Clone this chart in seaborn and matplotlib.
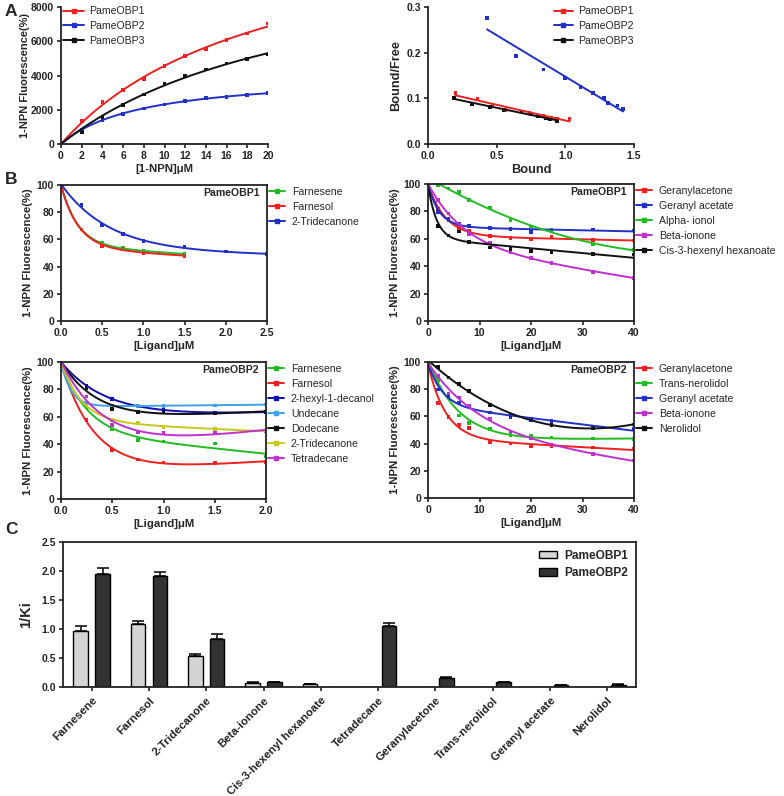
import numpy as np
import pandas as pd
import matplotlib
matplotlib.use("Agg")
import matplotlib.pyplot as plt
import seaborn as sns
from matplotlib.lines import Line2D
from matplotlib.patches import Patch

sns.set_theme(style="ticks")
plt.rcParams['font.family'] = ['Liberation Sans', 'DejaVu Sans']

# ---------------- DATA ----------------
# Panel A (saturation binding)
A_x = [2, 4, 6, 8, 10, 12, 14, 16, 18, 20]
A_obp1 = [1360, 2470, 3150, 3790, 4540, 5150, 5550, 6060, 6450, 7030]
A_obp2 = [850, 1400, 1770, 2080, 2310, 2520, 2680, 2740, 2870, 2970]
A_obp3 = [720, 1590, 2290, 2890, 3530, 3960, 4350, 4700, 4950, 5220]

# Panel A right (Scatchard)
S_obp1_x = [0.20, 0.36, 0.47, 0.56, 0.74, 0.84, 0.90, 0.94, 1.03]
S_obp1_y = [0.111, 0.098, 0.085, 0.075, 0.068, 0.062, 0.058, 0.055, 0.055]
S_obp2_x = [0.43, 0.64, 0.84, 1.00, 1.11, 1.20, 1.28, 1.31, 1.38, 1.42]
S_obp2_y = [0.276, 0.193, 0.163, 0.144, 0.125, 0.112, 0.100, 0.090, 0.084, 0.077]
S_obp3_x = [0.19, 0.32, 0.45, 0.55, 0.68, 0.75, 0.80, 0.86, 0.89, 0.94]
S_obp3_y = [0.101, 0.088, 0.081, 0.074, 0.071, 0.066, 0.061, 0.057, 0.054, 0.050]

# Panel B top-left (PameOBP1, 0-2.5 uM)
BTL_x_short = [0, 0.25, 0.5, 0.75, 1.0, 1.5]
BTL_x_long = [0, 0.25, 0.5, 0.75, 1.0, 1.5, 2.0, 2.5]
BTL_farnesene = [100, 67.2, 57.2, 53.5, 51.3, 49.4]
BTL_farnesol = [100, 67.2, 55.3, 53.0, 50.1, 48.0]
BTL_tridecanone = [100, 85.3, 70.4, 64.1, 58.9, 54.5, 51.1, 49.1]

# Panel B top-right (PameOBP1, 0-40 uM)
B40_x = [0, 2, 4, 6, 8, 12, 16, 20, 24, 32, 40]
BTR_geranylacetone = [100, 81.9, 73.8, 68.1, 65.5, 61.8, 60.5, 60.0, 61.5, 59.0, 58.8]
BTR_geranylacetate = [100, 79.7, 74.3, 71.0, 69.4, 68.1, 67.2, 65.0, 66.0, 66.7, 66.0]
BTR_alphaionol_x = [2, 4, 6, 8, 12, 16, 20, 24, 32, 40]
BTR_alphaionol = [98.8, 96.6, 94.0, 88.2, 82.8, 73.5, 69.0, 66.2, 55.9, 52.0]
BTR_betaionone = [100, 88.2, 78.4, 70.0, 63.7, 57.0, 50.0, 45.8, 42.2, 36.0, 31.6]
BTR_cis3 = [100, 69.4, 62.5, 65.4, 57.6, 53.7, 52.5, 51.2, 50.0, 49.0, 48.5]

# Panel B bottom-left (PameOBP2, 0-2 uM)
BBL_x = [0, 0.25, 0.5, 0.75, 1.0, 1.5, 2.0]
BBL_farnesene = [100, 67.0, 50.7, 43.2, 42.0, 40.5, 31.0]
BBL_farnesol = [100, 57.6, 35.6, 28.8, 26.6, 26.3, 27.1]
BBL_hexyldecanol = [100, 82.6, 73.0, 67.9, 65.0, 63.0, 63.5]
BBL_undecane = [100, 70.0, 68.0, 68.0, 68.0, 68.3, 69.0]
BBL_dodecane = [100, 80.9, 65.7, 63.7, 64.0, 62.4, 63.7]
BBL_tridecanone = [100, 68.0, 57.6, 55.6, 52.7, 51.0, 49.5]
BBL_tetradecane = [100, 74.8, 53.9, 49.0, 48.3, 48.3, 49.8]

# Panel B bottom-right (PameOBP2, 0-40 uM)
BBR_geranylacetone = [100, 70.0, 59.5, 53.8, 51.4, 41.3, 40.0, 37.8, 37.8, 37.1, 36.4]
BBR_transnerolidol = [100, 86.6, 75.6, 60.7, 55.0, 50.6, 46.4, 45.4, 44.5, 43.7, 43.2]
BBR_geranylacetate = [100, 79.8, 74.6, 70.2, 67.3, 62.9, 59.5, 57.5, 56.8, 52.6, 50.6]
BBR_betaionone = [100, 89.5, 76.8, 73.9, 67.6, 58.2, 48.9, 44.0, 39.0, 32.4, 27.5]
BBR_nerolidol = [100, 96.3, 88.5, 83.7, 78.5, 68.5, 61.0, 58.0, 53.6, 51.6, 54.0]

# Panel C (1/Ki)
C_ligands = ['Farnesene', 'Farnesol', '2-Tridecanone', 'Beta-ionone',
             'Cis-3-hexenyl hexanoate', 'Tetradecane', 'Geranylacetone',
             'Trans-nerolidol', 'Geranyl acetate', 'Nerolidol']
C_obp1 = [0.96, 1.09, 0.54, 0.075, 0.046, 0, 0, 0, 0, 0]
C_obp1_err = [0.10, 0.045, 0.035, 0.004, 0.003, 0, 0, 0, 0, 0]
C_obp2 = [1.94, 1.91, 0.82, 0.08, 0, 1.05, 0.155, 0.086, 0.03, 0.04]
C_obp2_err = [0.12, 0.08, 0.10, 0.006, 0, 0.06, 0.018, 0.006, 0.004, 0.004]

# ---------------- COLOURS ----------------
RED = "#ee2020"
BLUE = "#2030c8"
BLACK = "#111111"
GREEN = "#22bb22"
MAGENTA = "#c030d0"
LBLUE = "#40a0e8"
YELLOW = "#c8c820"
DBLUE = "#1010b0"

# ---------------- FITTING HELPERS ----------------
def fit_saturation(x, y, xs):
    x = np.asarray(x, float); y = np.asarray(y, float)
    best = None
    for K in np.logspace(-1, 3, 3000):
        f = x / (K + x)
        B = np.sum(y * f) / np.sum(f * f)
        sse = np.sum((y - B * f) ** 2)
        if best is None or sse < best[0]:
            best = (sse, K, B)
    _, K, B = best
    return B * xs / (K + xs)


def fit_decay(x, y, xs):
    x = np.asarray(x, float); y = np.asarray(y, float)
    xmax = x.max()
    best = None
    for k in np.logspace(np.log10(0.05), np.log10(200), 1500) / xmax:
        M = np.column_stack([np.ones_like(x), np.exp(-k * x), x])
        coef, *_ = np.linalg.lstsq(M, y, rcond=None)
        sse = np.sum((M @ coef - y) ** 2)
        if best is None or sse < best[0]:
            best = (sse, k, coef)
    _, k, coef = best
    return coef[0] + coef[1] * np.exp(-k * xs) + coef[2] * xs


def draw_series(ax, series, kind):
    pts, crv = [], []
    pal = {}
    for name, x, y, color in series:
        pal[name] = color
        x = np.asarray(x, float)
        xs = np.linspace(x.min(), x.max(), 300)
        if kind == "sat":
            xs = np.linspace(0, x.max(), 300)
            ys = fit_saturation(x, y, xs)
        elif kind == "lin":
            p = np.polyfit(x, y, 1)
            ys = np.polyval(p, xs)
        else:
            ys = fit_decay(x, y, xs)
        crv.append(pd.DataFrame({"x": xs, "y": ys, "s": name}))
        pts.append(pd.DataFrame({"x": x, "y": y, "s": name}))
    crv = pd.concat(crv); pts = pd.concat(pts)
    sns.lineplot(data=crv, x="x", y="y", hue="s", palette=pal, estimator=None,
                 sort=False, lw=1.4, legend=False, ax=ax)
    sns.scatterplot(data=pts, x="x", y="y", hue="s", palette=pal, s=7,
                    marker="s", edgecolor="none", legend=False, ax=ax)
    handles = [Line2D([0], [0], color=c, lw=1.4, marker="s", ms=2.3)
               for _, _, _, c in series]
    labels = [n for n, _, _, _ in series]
    return handles, labels


def style_ax(ax, box=False):
    for side in ["left", "bottom"]:
        ax.spines[side].set_linewidth(1.3)
        ax.spines[side].set_color("#222222")
    for side in ["top", "right"]:
        ax.spines[side].set_visible(box)
        ax.spines[side].set_linewidth(1.3)
        ax.spines[side].set_color("#222222")
    ax.tick_params(direction="out", length=3, width=1.2, labelsize=7.5, pad=2,
                   colors="#222222")
    for lab in ax.get_xticklabels() + ax.get_yticklabels():
        lab.set_fontweight("bold")


W, H = 784, 796
fig = plt.figure(figsize=(W / 100, H / 100), dpi=100)


def add_ax(x0, x1, y0, y1):
    return fig.add_axes([x0 / W, 1 - y1 / H, (x1 - x0) / W, (y1 - y0) / H])

LFS = 8.2   # axis label size
LEGFS = 7.6

# ---------- Panel A left ----------
ax = add_ax(61, 268, 7, 144)
h, l = draw_series(ax, [("PameOBP1", A_x, A_obp1, RED),
                        ("PameOBP2", A_x, A_obp2, BLUE),
                        ("PameOBP3", A_x, A_obp3, BLACK)], "sat")
ax.set_xlim(0, 20); ax.set_ylim(0, 8000)
ax.set_xticks(range(0, 21, 2)); ax.set_yticks(range(0, 8001, 2000))
ax.set_xlabel("[1-NPN]μM", fontsize=LFS, fontweight="bold", labelpad=2)
ax.set_ylabel("1-NPN Fluorescence(%)", fontsize=8.0, fontweight="bold", labelpad=1)
style_ax(ax)
ax.legend(h, l, loc="upper left", bbox_to_anchor=(0.0, 1.02), frameon=False,
          fontsize=LEGFS, handlelength=2.0, handletextpad=0.5, labelspacing=0.45,
          borderaxespad=0, borderpad=0.2)

# ---------- Panel A right ----------
ax = add_ax(428, 634, 7, 144)
h, l = draw_series(ax, [("PameOBP1", S_obp1_x, S_obp1_y, RED),
                        ("PameOBP2", S_obp2_x, S_obp2_y, BLUE),
                        ("PameOBP3", S_obp3_x, S_obp3_y, BLACK)], "lin")
ax.set_xlim(0, 1.5); ax.set_ylim(0, 0.3)
ax.set_xticks([0, 0.5, 1.0, 1.5]); ax.set_yticks([0, 0.1, 0.2, 0.3])
ax.xaxis.set_major_formatter(matplotlib.ticker.FormatStrFormatter("%.1f"))
ax.yaxis.set_major_formatter(matplotlib.ticker.FormatStrFormatter("%.1f"))
ax.set_xlabel("Bound", fontsize=LFS + 1, fontweight="bold", labelpad=2)
ax.set_ylabel("Bound/Free", fontsize=LFS + 1, fontweight="bold", labelpad=3)
style_ax(ax)
ax.legend(h, l, loc="upper left", bbox_to_anchor=(0.6, 1.02), frameon=False,
          fontsize=LEGFS, handlelength=1.8, handletextpad=0.5, labelspacing=0.45,
          borderaxespad=0, borderpad=0.2)


def b_panel(x0, x1, y0, y1, series, xlim, xticks, fmt, title):
    ax = add_ax(x0, x1, y0, y1)
    h, l = draw_series(ax, series, "decay")
    ax.set_xlim(*xlim); ax.set_ylim(0, 100)
    ax.set_xticks(xticks); ax.set_yticks(range(0, 101, 20))
    ax.xaxis.set_major_formatter(matplotlib.ticker.FormatStrFormatter(fmt))
    ax.set_xlabel("[Ligand]μM", fontsize=LFS, fontweight="bold", labelpad=2)
    ax.set_ylabel("1-NPN Fluorescence(%)", fontsize=LFS, fontweight="bold", labelpad=3)
    style_ax(ax, box=True)
    ax.text(0.965, 0.94, title, transform=ax.transAxes, ha="right", va="center",
            fontsize=LEGFS, fontweight="bold")
    ax.legend(h, l, loc="upper left", bbox_to_anchor=(1.0, 1.0), frameon=False,
              fontsize=LEGFS, handlelength=1.6, handletextpad=0.6, labelspacing=0.48,
              borderaxespad=0, borderpad=0.15)
    return ax

b_panel(61, 267, 185, 321,
        [("Farnesene", BTL_x_short, BTL_farnesene, GREEN),
         ("Farnesol", BTL_x_short, BTL_farnesol, RED),
         ("2-Tridecanone", BTL_x_long, BTL_tridecanone, BLUE)],
        (0, 2.5), [0, 0.5, 1.0, 1.5, 2.0, 2.5], "%.1f", "PameOBP1")

b_panel(428, 634, 184, 321,
        [("Geranylacetone", B40_x, BTR_geranylacetone, RED),
         ("Geranyl acetate", B40_x, BTR_geranylacetate, BLUE),
         ("Alpha- ionol", BTR_alphaionol_x, BTR_alphaionol, GREEN),
         ("Beta-ionone", B40_x, BTR_betaionone, MAGENTA),
         ("Cis-3-hexenyl hexanoate", B40_x, BTR_cis3, BLACK)],
        (0, 40), [0, 10, 20, 30, 40], "%d", "PameOBP1")

b_panel(61, 266, 362, 499,
        [("Farnesene", BBL_x, BBL_farnesene, GREEN),
         ("Farnesol", BBL_x, BBL_farnesol, RED),
         ("2-hexyl-1-decanol", BBL_x, BBL_hexyldecanol, DBLUE),
         ("Undecane", BBL_x, BBL_undecane, LBLUE),
         ("Dodecane", BBL_x, BBL_dodecane, BLACK),
         ("2-Tridecanone", BBL_x, BBL_tridecanone, YELLOW),
         ("Tetradecane", BBL_x, BBL_tetradecane, MAGENTA)],
        (0, 2.0), [0, 0.5, 1.0, 1.5, 2.0], "%.1f", "PameOBP2")

b_panel(428, 634, 362, 498,
        [("Geranylacetone", B40_x, BBR_geranylacetone, RED),
         ("Trans-nerolidol", B40_x, BBR_transnerolidol, GREEN),
         ("Geranyl acetate", B40_x, BBR_geranylacetate, BLUE),
         ("Beta-ionone", B40_x, BBR_betaionone, MAGENTA),
         ("Nerolidol", B40_x, BBR_nerolidol, BLACK)],
        (0, 40), [0, 10, 20, 30, 40], "%d", "PameOBP2")

# ---------- Panel C ----------
ax = add_ax(63, 636, 542, 687)
dfc = pd.DataFrame({
    "ligand": C_ligands * 2,
    "value": C_obp1 + C_obp2,
    "err": C_obp1_err + C_obp2_err,
    "protein": ["PameOBP1"] * len(C_ligands) + ["PameOBP2"] * len(C_ligands),
})
pal_c = {"PameOBP1": "#d4d4d4", "PameOBP2": "#333333"}
sns.barplot(data=dfc, x="ligand", y="value", hue="protein", palette=pal_c,
            order=C_ligands, hue_order=["PameOBP1", "PameOBP2"],
            width=0.76, gap=0.33, edgecolor="black", linewidth=1.0,
            errorbar=None, legend=False, ax=ax)
# one-sided error bars at bar tops
bars = [p for p in ax.patches if p.get_width() > 0]
for p, (_, row) in zip(bars, dfc.iterrows()):
    if row["err"] > 0:
        cx = p.get_x() + p.get_width() / 2
        ax.errorbar(cx, row["value"], yerr=[[0], [row["err"]]], fmt="none",
                    ecolor="black", elinewidth=1.1, capsize=4, capthick=1.1)
ax.set_xlim(-0.5, len(C_ligands) - 0.5)
ax.set_ylim(0, 2.5)
ax.set_yticks([0, 0.5, 1.0, 1.5, 2.0, 2.5])
ax.yaxis.set_major_formatter(matplotlib.ticker.FormatStrFormatter("%.1f"))
ax.set_xlabel("")
ax.set_ylabel("1/Ki", fontsize=10.5, fontweight="bold", labelpad=6)
style_ax(ax, box=True)
ax.set_xticks(range(len(C_ligands)))
ax.set_xticklabels(C_ligands, rotation=45, ha="right", rotation_mode="anchor",
                   fontsize=8.2, fontweight="bold")
ax.tick_params(axis="x", pad=3)
leg_h = [Patch(facecolor=pal_c[k], edgecolor="black", linewidth=1.0) for k in pal_c]
leg = ax.legend(leg_h, list(pal_c.keys()), loc="upper right", bbox_to_anchor=(0.995, 0.98),
                frameon=False, fontsize=8.6, handlelength=1.5, handleheight=0.6,
                handletextpad=0.6, labelspacing=0.45, borderaxespad=0)
for t in leg.get_texts():
    t.set_fontweight("bold")

# panel letters
fig.text(5 / W, 1 - 12 / H, "A", fontsize=12.5, fontweight="bold", va="center")
fig.text(5 / W, 1 - 179 / H, "B", fontsize=12.5, fontweight="bold", va="center")
fig.text(5 / W, 1 - 530 / H, "C", fontsize=12.5, fontweight="bold", va="center")

fig.savefig("out.png", dpi=100)
